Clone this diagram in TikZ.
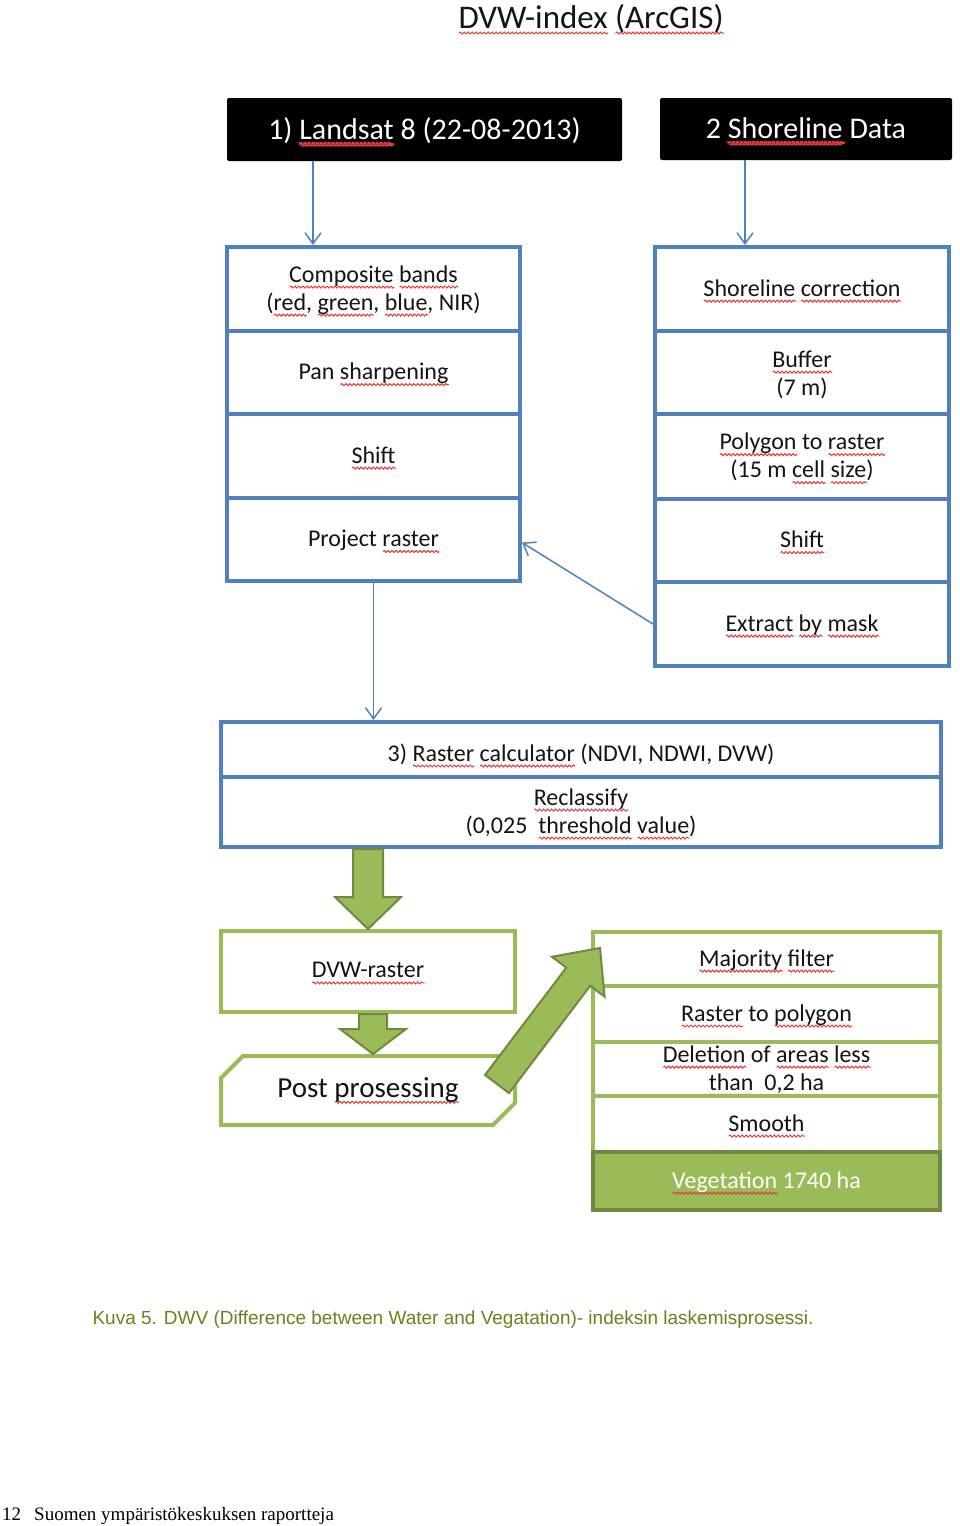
\documentclass[tikz,border=0pt]{standalone}
\usepackage{fontspec}
\setmainfont{Carlito}
\newfontfamily\capfont{Liberation Sans}
\newfontfamily\footfont{Liberation Serif}
\usetikzlibrary{calc,arrows.meta,shapes.misc,decorations.pathmorphing}
\definecolor{bluec}{HTML}{4F81BD}
\definecolor{greenc}{HTML}{9BBB59}
\definecolor{greend}{HTML}{71893F}
\definecolor{capc}{HTML}{6E7F1F}
\definecolor{squig}{HTML}{E03C3C}
\definecolor{txtc}{HTML}{141414}
\newsavebox\sqbox
\newlength\sqwd
\newcommand\sq[1]{\sbox\sqbox{#1}\setlength\sqwd{\wd\sqbox}\leavevmode\rlap{\raisebox{-5pt}{\tikz[x=1pt,y=1pt,baseline=0pt]\draw[squig, line width=1pt, decorate, decoration={snake, amplitude=1pt, segment length=4pt}] (0,0) -- (\sqwd,0);}}\usebox\sqbox}
% box node (no text) plus its text node, lowered a little like the reference
\newcommand\boxat[7]{%
  \node[#6, minimum width={#4-#2}, minimum height={#5-#3}] (#1) at ({(#2+#4)/2},{(#3+#5)/2}) {};
  \node[#6, draw=none, fill=none, minimum width=0pt, minimum height=0pt, rectangle] (#1-t) at ([yshift=-2pt]#1.center) {#7};
}
\newcommand\fatarrow[5]{%
  \coordinate (fas) at (#1);
  \coordinate (fae) at (#2);
  \coordinate (fah) at ($(fae)!#5!(fas)$);
  \draw[fatarr] ($(fas)!#3!90:(fae)$) -- ($(fah)!#3!-90:(fas)$) -- ($(fah)!#4!-90:(fas)$) -- (fae)
     -- ($(fah)!#4!90:(fas)$) -- ($(fah)!#3!90:(fas)$) -- ($(fas)!#3!-90:(fae)$) -- cycle;
}
\tikzset{
  boxfont/.style={font=\fontsize{24}{28}\selectfont},
  blu/.style={draw=bluec, line width=4pt, fill=white, inner sep=0pt, align=center, text=txtc, boxfont},
  grn/.style={draw=greenc, line width=4pt, fill=white, inner sep=0pt, align=center, text=txtc, boxfont},
  veg/.style={grn, draw=greend, fill=greenc, text=white},
  blk/.style={fill=black, rounded corners=2pt, text=white, inner sep=0pt, align=center, font=\fontsize{30}{34}\selectfont},
  conn/.style={draw=bluec, line width=1.5pt, -{Straight Barb[length=11pt,width=16pt]}},
  fatarr/.style={fill=greenc, draw=greend, line width=2pt, line join=miter},
  txtonly/.style={inner sep=0pt, align=center, text=txtc, boxfont},
}
\begin{document}
\begin{tikzpicture}[x=1pt,y=-1pt]
\fill[white] (0,0) rectangle (960,1526);
\useasboundingbox (0,0) rectangle (960,1526);

% title
\node[font=\fontsize{33}{38}\selectfont, anchor=base, text=txtc] (title) at (591,28) {\sq{DVW-index} \sq{(ArcGIS)}};

% black input boxes
\boxat{l1}{227}{98}{622}{161}{blk}{1) \sq{Landsat} 8 (22-08-2013)}
\boxat{s1}{660}{98}{952}{160}{blk}{2 \sq{Shoreline} Data}

% left stack
\boxat{comp}{227}{247}{520}{331}{blu}{\sq{Composite} \sq{bands}\\(\sq{red}, \sq{green}, \sq{blue}, NIR)}
\boxat{pan}{227}{331}{520}{414}{blu}{Pan \sq{sharpening}}
\boxat{shl}{227}{414}{520}{498}{blu}{\sq{Shift}}
\boxat{proj}{227}{498}{520}{581}{blu}{Project \sq{raster}}

% right stack
\boxat{shc}{655}{247}{949}{331}{blu}{\sq{Shoreline} \sq{correction}}
\boxat{buf}{655}{331}{949}{414}{blu}{\sq{Buffer}\\(7 m)}
\boxat{ptr}{655}{414}{949}{499}{blu}{\sq{Polygon} to \sq{raster}\\(15 m \sq{cell} \sq{size})}
\boxat{shr}{655}{499}{949}{582}{blu}{\sq{Shift}}
\boxat{ext}{655}{582}{949}{666}{blu}{\sq{Extract} \sq{by} \sq{mask}}

% wide box
\node[blu, minimum width=720, minimum height=55] (rcalc) at (581,749.5) {};
\node[txtonly] (rcalct) at ([yshift=-6pt]rcalc.center) {3) \sq{Raster} \sq{calculator} (NDVI, NDWI, DVW)};
\boxat{recl}{221}{777}{941}{847}{blu}{\sq{Reclassify}\\(0,025\ \ \sq{threshold} \sq{value})}

% green boxes
\boxat{dvw}{221}{931}{515}{1012}{grn}{\sq{DVW-raster}}
\node[grn, chamfered rectangle, chamfered rectangle corners={north west,south east}, chamfered rectangle xsep=11pt, chamfered rectangle ysep=11pt, minimum width=294, minimum height=69, font=\fontsize{29}{34}\selectfont] (post) at (368,1090.5) {Post \sq{prosessing}};

\boxat{maj}{593}{932}{940}{986}{grn}{\sq{Majority} \sq{filter}}
\boxat{rtp}{593}{986}{940}{1042}{grn}{\sq{Raster} to \sq{polygon}}
\boxat{del}{593}{1042}{940}{1096}{grn}{\sq{Deletion} of \sq{areas} \sq{less}\\\sq{than}\ \ 0,2 ha}
\boxat{smo}{593}{1096}{940}{1152}{grn}{\sq{Smooth}}
\boxat{vegb}{593}{1152}{940}{1210}{veg}{\sq{Vegetation} 1740 ha}

% thin blue connectors
\coordinate (a1) at ([xshift=-111.5pt]l1.south);
\draw[conn] (a1) -- (a1 |- comp.north);
\coordinate (a2) at ([xshift=-61pt]s1.south);
\draw[conn] (a2) -- (a2 |- shc.north);
\draw[conn] (proj.south) -- (proj.south |- rcalc.north);
\draw[conn] (ext.west) -- ([yshift=-3pt]proj.east);

% fat green arrows
\coordinate (f1s) at (recl.south -| dvw.north);
\fatarrow{f1s}{dvw.north}{15pt}{33pt}{32pt}
\coordinate (f2s) at ([xshift=5pt]dvw.south);
\coordinate (f2e) at ([xshift=5pt]post.north);
\fatarrow{f2s}{f2e}{14pt}{33pt}{25pt}
\coordinate (f3s) at ($(post.east)+(-20,-6.5)$);
\coordinate (f3e) at ($(maj.west)+(9,-11)$);
\fatarrow{f3s}{f3e}{15pt}{33pt}{36pt}

% caption and footer
\node[font=\capfont\fontsize{19}{22}\selectfont, text=capc, anchor=base] (cap) at (453,1324) {Kuva 5. DWV (Difference between Water and Vegatation)- indeksin laskemisprosessi.};
\node[font=\footfont\fontsize{19}{22}\selectfont, anchor=base west, inner sep=0pt] (pg) at (2,1520) {12};
\node[font=\footfont\fontsize{19}{22}\selectfont, anchor=base west, inner sep=0pt] (ser) at (34,1520) {Suomen ympäristökeskuksen raportteja};
\end{tikzpicture}
\end{document}
